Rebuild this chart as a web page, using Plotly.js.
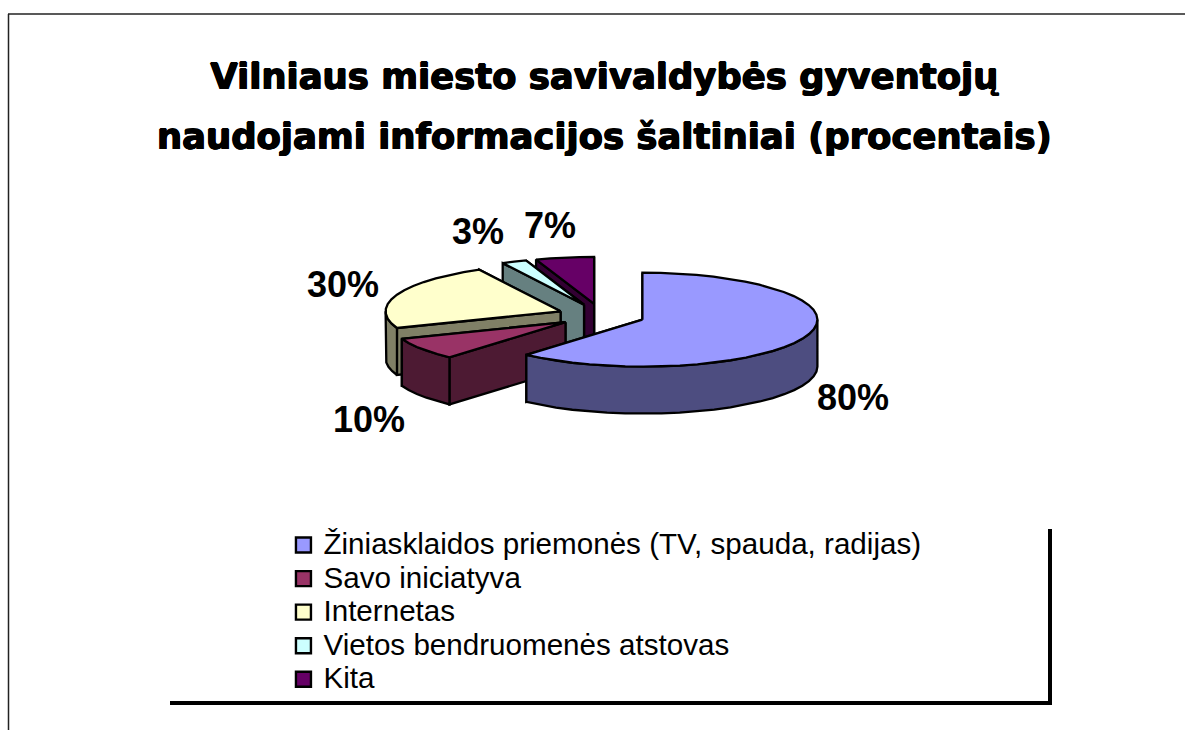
<!DOCTYPE html>
<html>
<head>
<meta charset="utf-8">
<script src="https://cdn.plot.ly/plotly-3.0.1.min.js"></script>
<style>html,body{margin:0;padding:0;background:#fff}#chart{width:1185px;height:730px}</style>
</head>
<body>
<div id="chart"></div>
<script>
// ---- chart data ----
const categories = ["Žiniasklaidos priemonės (TV, spauda, radijas)", "Savo iniciatyva", "Internetas", "Vietos bendruomenės atstovas", "Kita"];
const values = [80, 10, 30, 3, 7];
const valueLabels = ["80%", "10%", "30%", "3%", "7%"];
const titleLines = ["Vilniaus miesto savivaldybės gyventojų", "naudojami informacijos šaltiniai (procentais)"];

// ---- styling ----
const topColors  = ["#9999FF", "#993366", "#FFFFCC", "#CCFFFF", "#660066"];
const sideColors = ["#4D4D80", "#4D1A33", "#808066", "#668080", "#330033"];
const labelPos = [[853, 397], [369, 419], [343, 284], [478, 231], [550, 225]];
const pie = {cx: 601.5, cy: 315.5, a: 175, b: 47, depth: 47, pull: 0.25, step: 6};

// ---- geometry: pie drawn on pixel-like cartesian axes ----
const total = values.reduce((s, v) => s + v, 0);
const rad = d => d * Math.PI / 180;
function rim(ax, ay, t, z) { return [ax + pie.a * Math.sin(rad(t)), ay - pie.b * Math.cos(rad(t)) + z]; }
function arc(ax, ay, t0, t1, z) {
  const pts = [];
  const n = Math.max(1, Math.ceil(Math.abs(t1 - t0) / pie.step));
  for (let i = 0; i <= n; i++) pts.push(rim(ax, ay, t0 + (t1 - t0) * i / n, z));
  return pts;
}
function poly(pts, fill) {
  const c = pts.concat([pts[0]]);
  return {type: "scatter", mode: "lines", x: c.map(p => p[0]), y: c.map(p => p[1]),
    fill: "toself", fillcolor: fill, line: {color: "#000", width: 2.3, shape: "linear"},
    showlegend: false, hoverinfo: "skip"};
}
const traces = [];
const order = [4, 3, 2, 1, 0];
let acc = 0;
const spans = values.map(v => { const s = acc; acc += v / total * 360; return [s, acc]; });
order.forEach(i => {
  const [t0, t1] = spans[i];
  const m = (t0 + t1) / 2;
  const ax = pie.cx + pie.pull * pie.a * Math.sin(rad(m));
  const ay = pie.cy - pie.pull * pie.b * Math.cos(rad(m));
  const d = pie.depth;
  const wall = t => { const p = rim(ax, ay, t, 0); return [[ax, ay], p, [p[0], p[1] + d], [ax, ay + d]]; };
  traces.push(poly(wall(t1), sideColors[i]));
  traces.push(poly(wall(t0), sideColors[i]));
  const f0 = Math.max(t0, 90), f1 = Math.min(t1, 270);
  if (f1 > f0) traces.push(poly(arc(ax, ay, f0, f1, 0).concat(arc(ax, ay, f1, f0, d)), sideColors[i]));
  traces.push(poly([[ax, ay]].concat(arc(ax, ay, t0, t1, 0)), topColors[i]));
});
// legend entries
categories.forEach((name, i) => traces.push({
  type: "scatter", mode: "markers", x: [null], y: [null],
  name: '<span style="font-size:29.6px">' + name + '</span>',
  marker: {symbol: "square", size: 15, color: topColors[i], line: {color: "#000", width: 2.4}},
  hoverinfo: "skip"
}));

const layout = {
  width: 1185, height: 730,
  margin: {l: 0, r: 0, t: 0, b: 0},
  paper_bgcolor: "#fff", plot_bgcolor: "#fff",
  font: {family: "Liberation Sans, Arial, sans-serif", color: "#000"},
  title: {
    text: titleLines.map(l => '<span style="font-size:35.4px">' + l + '</span>').join("<br>"),
    font: {family: "DejaVu Sans, Arial Black, sans-serif", size: 46.15, weight: 700, color: "#000",
           shadow: "0.7px 0 0 #000, -0.7px 0 0 #000, 0 0.4px 0 #000, 0 -0.4px 0 #000"},
    x: 0.51, xanchor: "center", xref: "paper", y: 0.8786, yanchor: "middle", yref: "container"
  },
  xaxis: {range: [0, 1185], visible: false, fixedrange: true},
  yaxis: {range: [730, 0], visible: false, fixedrange: true},
  showlegend: true,
  legend: {
    x: 0.2392, xanchor: "left", y: 0.2832, yanchor: "top", xref: "paper", yref: "paper",
    bgcolor: "rgba(0,0,0,0)", borderwidth: 0,
    font: {family: "Liberation Sans, Arial, sans-serif", size: 23.5, color: "#000"},
    itemwidth: 30, traceorder: "normal"
  },
  annotations: valueLabels.map((t, i) => ({
    text: t, x: labelPos[i][0], y: labelPos[i][1], xref: "x", yref: "y",
    showarrow: false, xanchor: "center", yanchor: "middle",
    font: {family: "Liberation Sans, Arial, sans-serif", size: 36, weight: 700, color: "#000"}
  })),
  shapes: [
    {type: "line", xref: "x", yref: "y", x0: 8.5, x1: 8.5, y0: 14, y1: 730, line: {color: "#222", width: 1.5}},
    {type: "line", xref: "x", yref: "y", x0: 8, x1: 1185, y0: 14, y1: 14, line: {color: "#222", width: 1.5}},
    {type: "line", xref: "x", yref: "y", x0: 1050, x1: 1050, y0: 529, y1: 705, line: {color: "#000", width: 4}},
    {type: "line", xref: "x", yref: "y", x0: 170, x1: 1052, y0: 703, y1: 703, line: {color: "#000", width: 4}}
  ]
};
Plotly.newPlot("chart", traces, layout, {displayModeBar: false, staticPlot: true});
</script>
</body>
</html>
